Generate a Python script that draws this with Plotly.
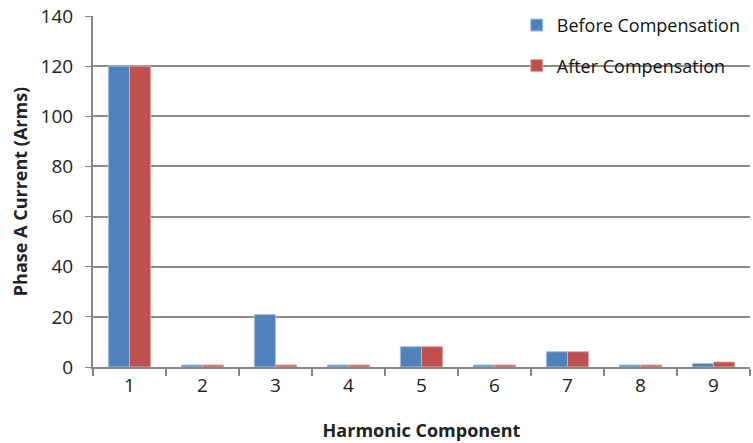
import plotly.graph_objects as go

categories = ["1", "2", "3", "4", "5", "6", "7", "8", "9"]
before = [120, 0.8, 20.9, 0.8, 8.1, 0.8, 6.1, 0.8, 1.4]
after = [120, 0.8, 0.8, 0.8, 8.1, 0.8, 6.1, 0.8, 2.0]
yticks = [0, 20, 40, 60, 80, 100, 120, 140]

FONT = "'Open Sans', sans-serif"

fig = go.Figure()
fig.add_trace(go.Bar(x=categories, y=before, name="Before Compensation",
                     marker=dict(color="#4F81BD", line=dict(color="#A7C0DE", width=1)),
                     legendgroup="a"))
fig.add_trace(go.Bar(x=categories, y=after, name="After Compensation",
                     marker=dict(color="#C0504D", line=dict(color="#E0A8A6", width=1)),
                     legendgroup="b"))

fig.update_layout(
    width=753, height=443,
    margin=dict(l=93, r=3, t=16, b=76),
    paper_bgcolor="white", plot_bgcolor="white",
    barmode="group", bargap=0.42, bargroupgap=0.0,
    font=dict(family=FONT, size=18, color="#222"),
    showlegend=True,
    legend=dict(x=0.645, y=1.026, xanchor="left", yanchor="top",
                bgcolor="rgba(0,0,0,0)", tracegroupgap=14,
                font=dict(size=18, color="#111"), itemwidth=30),
    xaxis=dict(type="category", showline=True, linecolor="#868686", linewidth=2,
               ticks="outside", tickson="boundaries", ticklen=7, tickcolor="#868686",
               tickwidth=1.5,
               title=dict(text="<b>Harmonic Component</b>", font=dict(size=18), standoff=28),
               tickfont=dict(size=19)),
    yaxis=dict(range=[0, 140], tickvals=yticks, showline=True, linecolor="#868686",
               linewidth=2, ticks="outside", ticklen=6, tickcolor="#868686",
               showgrid=True, gridcolor="#8C8C8C", gridwidth=1.5,
               ticklabelstandoff=8,
               title=dict(text="<b>Phase A Current (Arms)</b>", font=dict(size=18), standoff=8),
               tickfont=dict(size=19), zeroline=False),
)

fig.write_html("out.html")
